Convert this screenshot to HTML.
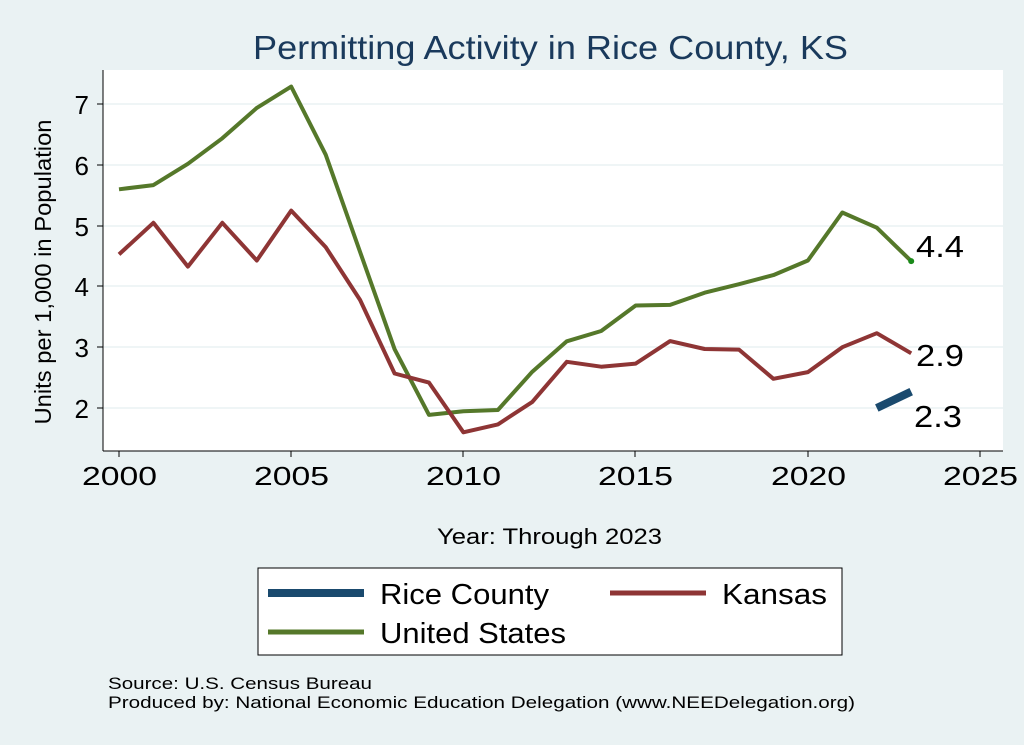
<!DOCTYPE html>
<html><head><meta charset="utf-8"><style>
body{margin:0;background:#eaf2f3;}
svg{display:block;font-family:"Liberation Sans",Arial,sans-serif;}
</style></head><body>
<svg width="1024" height="745" viewBox="0 0 1024 745">
<rect width="1024" height="745" fill="#eaf2f3"/>
<rect x="103" y="70" width="900" height="381" fill="#fff"/>
<text x="253" y="59" font-size="33" fill="#1a3a5c" textLength="595" lengthAdjust="spacingAndGlyphs">Permitting Activity in Rice County, KS</text>
<g stroke="#eaf2f3" stroke-width="1.5">
<line x1="103" x2="1003" y1="104" y2="104"/><line x1="103" x2="1003" y1="165" y2="165"/>
<line x1="103" x2="1003" y1="226" y2="226"/><line x1="103" x2="1003" y1="286" y2="286"/>
<line x1="103" x2="1003" y1="347" y2="347"/><line x1="103" x2="1003" y1="408" y2="408"/>
</g>
<line x1="103" y1="70" x2="103" y2="451" stroke="#000" stroke-width="1"/>
<line x1="103" y1="451" x2="1003" y2="451" stroke="#000" stroke-width="1"/>
<g stroke="#000" stroke-width="1">
<line x1="97" x2="103" y1="104" y2="104"/><line x1="97" x2="103" y1="165" y2="165"/>
<line x1="97" x2="103" y1="226" y2="226"/><line x1="97" x2="103" y1="286" y2="286"/>
<line x1="97" x2="103" y1="347" y2="347"/><line x1="97" x2="103" y1="408" y2="408"/>
<line x1="119" x2="119" y1="451" y2="457"/><line x1="291" x2="291" y1="451" y2="457"/>
<line x1="463" x2="463" y1="451" y2="457"/><line x1="635" x2="635" y1="451" y2="457"/>
<line x1="808" x2="808" y1="451" y2="457"/><line x1="980" x2="980" y1="451" y2="457"/>
</g>
<g font-size="26" text-anchor="end">
<text x="89" y="114">7</text><text x="89" y="175">6</text><text x="89" y="236">5</text>
<text x="89" y="296">4</text><text x="89" y="357">3</text><text x="89" y="418">2</text>
</g>
<g font-size="26">
<text x="82" y="485" textLength="75" lengthAdjust="spacingAndGlyphs">2000</text>
<text x="254" y="485" textLength="75" lengthAdjust="spacingAndGlyphs">2005</text>
<text x="426" y="485" textLength="75" lengthAdjust="spacingAndGlyphs">2010</text>
<text x="598" y="485" textLength="75" lengthAdjust="spacingAndGlyphs">2015</text>
<text x="771" y="485" textLength="75" lengthAdjust="spacingAndGlyphs">2020</text>
<text x="943" y="485" textLength="75" lengthAdjust="spacingAndGlyphs">2025</text>
</g>
<text x="51" y="272" font-size="23" text-anchor="middle" textLength="305" lengthAdjust="spacingAndGlyphs" transform="rotate(-90 51 272)">Units per 1,000 in Population</text>
<text x="437" y="544" font-size="22" textLength="225" lengthAdjust="spacingAndGlyphs">Year: Through 2023</text>
<polyline fill="none" stroke="#55782a" stroke-width="4" stroke-linejoin="round" points="119,189.3 153.4,185.1 187.9,163.8 222.3,138.3 256.8,107.9 291.2,86.6 325.7,154.7 360.1,252 394.6,349.2 429,414.9 463.4,411.2 497.9,410 532.3,371.7 566.8,341.3 601.2,331 635.7,305.5 670.1,304.9 704.6,292.7 739,284.2 773.4,275.1 807.9,260.5 842.3,212.5 876.8,227.7 911.2,261.1"/>
<polyline fill="none" stroke="#8e3535" stroke-width="4" stroke-linejoin="round" points="119,254.4 153.4,222.8 187.9,266.6 222.3,222.8 256.8,260.5 291.2,210.6 325.7,247.1 360.1,300 394.6,373.5 429,382.6 463.4,432.3 497.9,424.4 532.3,401.9 566.8,361.8 601.2,366.7 635.7,363.6 670.1,341.1 704.6,349 739,349.6 773.4,378.8 807.9,372.1 842.3,347.2 876.8,333.2 911.2,353.3"/>
<line x1="876.8" y1="408" x2="911.2" y2="391.6" stroke="#1a4a6e" stroke-width="8"/>
<circle cx="911.2" cy="261.1" r="3" fill="#1a8a1a"/>
<g font-size="31">
<text x="916" y="257" textLength="48" lengthAdjust="spacingAndGlyphs">4.4</text>
<text x="916" y="366" textLength="48" lengthAdjust="spacingAndGlyphs">2.9</text>
<text x="914" y="427" textLength="48" lengthAdjust="spacingAndGlyphs">2.3</text>
</g>
<rect x="258" y="568" width="584" height="87" fill="#fff" stroke="#000" stroke-width="1"/>
<line x1="268" y1="593" x2="364" y2="593" stroke="#1a4a6e" stroke-width="8"/>
<text x="380" y="604" font-size="29" textLength="169" lengthAdjust="spacingAndGlyphs">Rice County</text>
<line x1="610" y1="593" x2="706" y2="593" stroke="#8e3535" stroke-width="5"/>
<text x="722" y="604" font-size="29" textLength="105" lengthAdjust="spacingAndGlyphs">Kansas</text>
<line x1="268" y1="632" x2="364" y2="632" stroke="#55782a" stroke-width="5"/>
<text x="380" y="643" font-size="29" textLength="186" lengthAdjust="spacingAndGlyphs">United States</text>
<text x="108" y="689" font-size="17" textLength="264" lengthAdjust="spacingAndGlyphs">Source: U.S. Census Bureau</text>
<text x="108" y="708" font-size="17" textLength="747" lengthAdjust="spacingAndGlyphs">Produced by: National Economic Education Delegation (www.NEEDelegation.org)</text>
</svg>
</body></html>
